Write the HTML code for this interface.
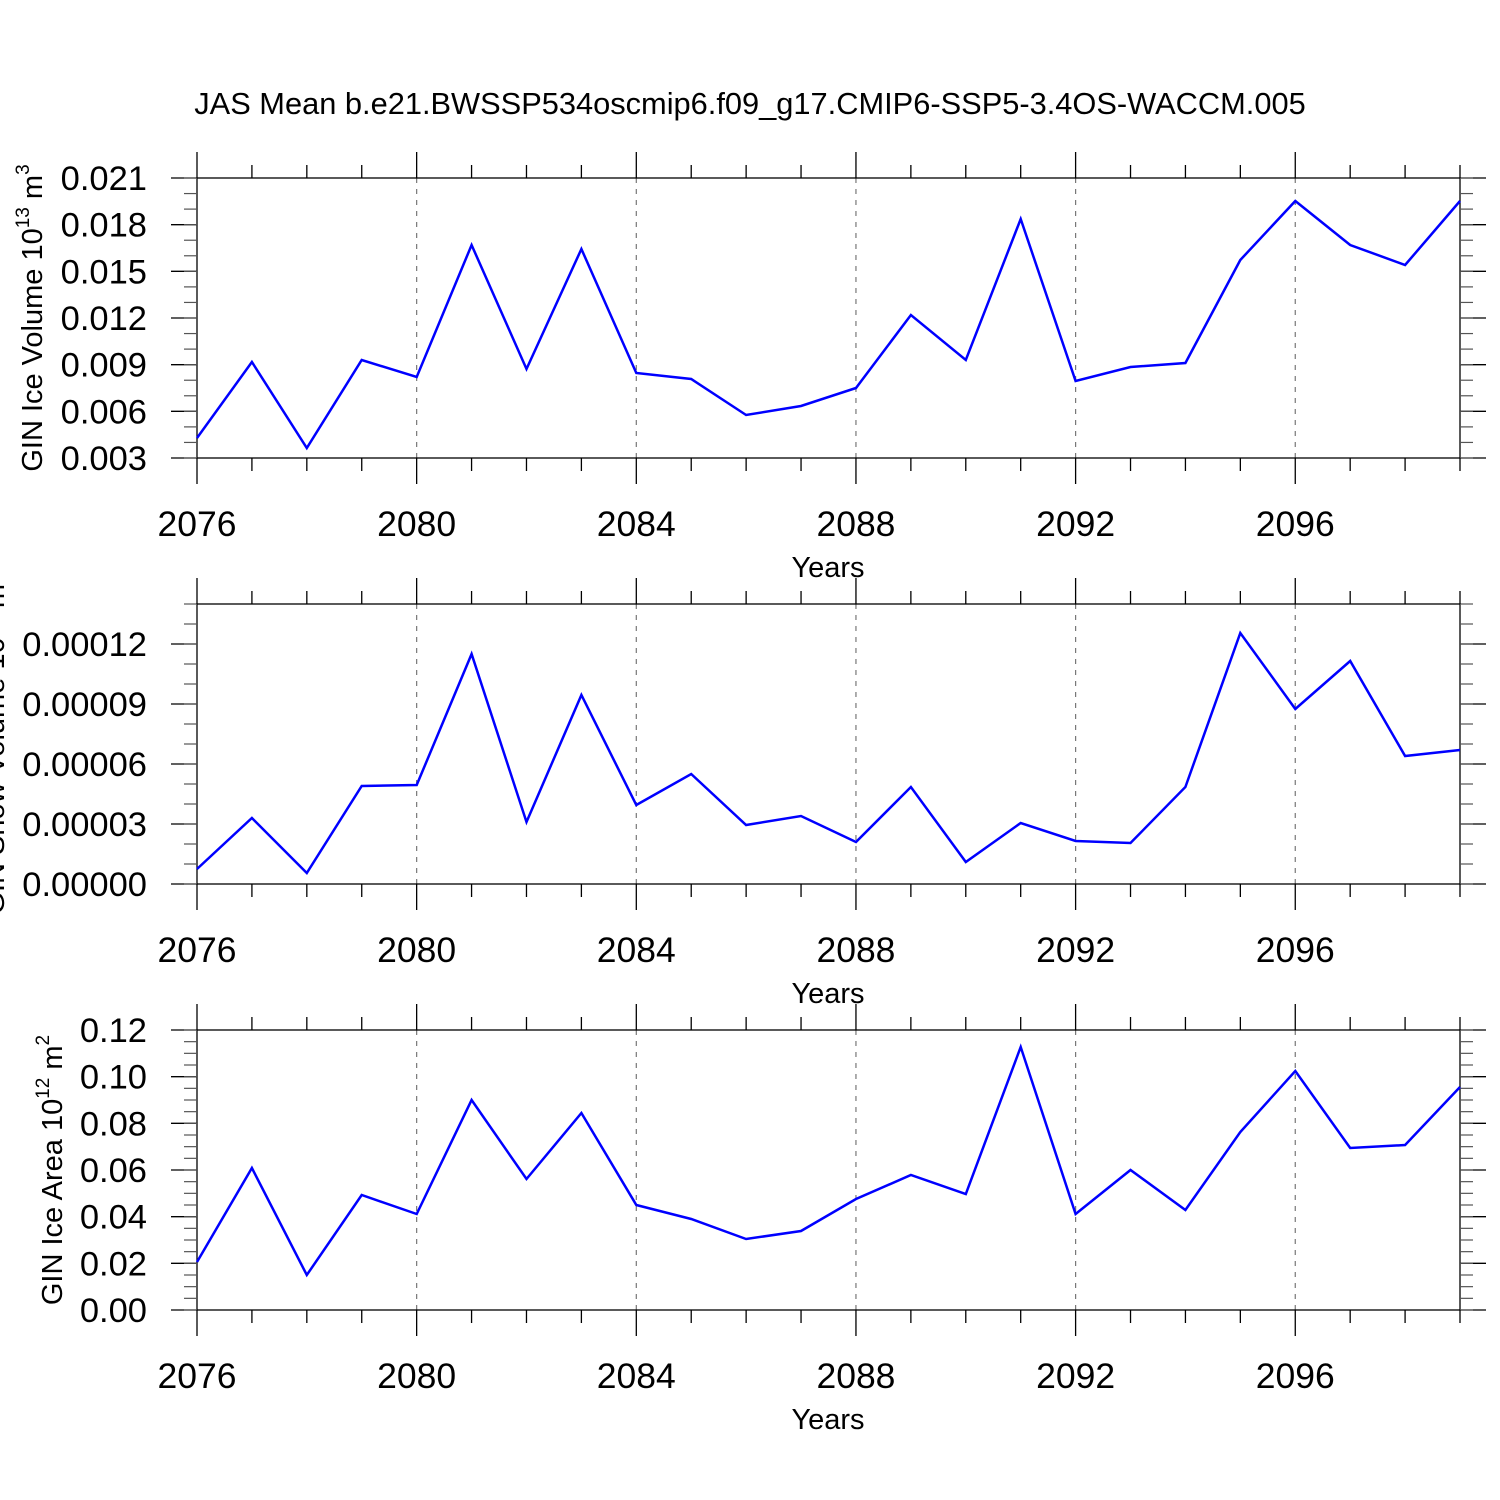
<!DOCTYPE html>
<html><head><meta charset="utf-8"><style>body{margin:0;background:#fff}svg{display:block}</style></head>
<body>
<svg id="s" width="1500" height="1500" xmlns="http://www.w3.org/2000/svg" font-family="Liberation Sans, sans-serif">
<rect width="1500" height="1500" fill="#fff"/>
<text x="750" y="114" font-size="30.8" text-anchor="middle">JAS Mean b.e21.BWSSP534oscmip6.f09_g17.CMIP6-SSP5-3.4OS-WACCM.005</text>
</svg>
<script>
const s=document.getElementById('s');const NS='http://www.w3.org/2000/svg';
function el(t,a,txt){const e=document.createElementNS(NS,t);for(const k in a)e.setAttribute(k,a[k]);if(txt!==undefined)e.textContent=txt;s.appendChild(e);return e;}
const X0=197,X1=1460,dx=(X1-X0)/23;
const panels=[
 {top:178,bot:458,labels:['0.021','0.018','0.015','0.012','0.009','0.006','0.003'],minor:3,
  ys:[438,362,448,360,377,245,369,249,373,379,415,406,388,315,360,219,381,367,363,260,201,245,265,201],
  ylab:'GIN Ice Volume 10<tspan dy="-13" font-size="19">13</tspan><tspan dy="13"> m</tspan><tspan dy="-13" font-size="19">3</tspan>',lx:42},
 {top:604,bot:884,labels:['0.00012','0.00009','0.00006','0.00003','0.00000'],start:644,step:60,minor:3,
  ys:[869,818,873,786,785,654,822,695,805,774,825,816,842,787,862,823,841,843,787,633,709,661,756,750],
  ylab:'GIN Snow Volume 10<tspan dy="-13" font-size="19">13</tspan><tspan dy="13"> m</tspan><tspan dy="-13" font-size="19">3</tspan>',lx:4},
 {top:1030,bot:1310,labels:['0.12','0.10','0.08','0.06','0.04','0.02','0.00'],minor:4,
  ys:[1262,1168,1275,1195,1214,1100,1179,1113,1205,1219,1239,1231,1199,1175,1194,1047,1214,1170,1210,1132,1071,1148,1145,1087],
  ylab:'GIN Ice Area 10<tspan dy="-13" font-size="19">12</tspan><tspan dy="13"> m</tspan><tspan dy="-13" font-size="19">2</tspan>',lx:62}
];
for(const p of panels){
 const n=p.labels.length;
 const start=p.start!==undefined?p.start:p.top;
 const step=p.step!==undefined?p.step:(p.bot-p.top)/(n-1);
 for(let yr=2080;yr<=2096;yr+=4){const x=X0+(yr-2076)*dx;el('line',{x1:x,x2:x,y1:p.top,y2:p.bot,stroke:'#777','stroke-width':1.2,'stroke-dasharray':'5,6'});}
 el('rect',{x:X0,y:p.top,width:X1-X0,height:p.bot-p.top,fill:'none',stroke:'#000','stroke-width':1.3});
 for(let i=0;i<n;i++){const y=start+i*step;
  el('line',{x1:X0-26,x2:X0,y1:y,y2:y,stroke:'#000','stroke-width':1.3});
  el('line',{x1:X1,x2:X1+26,y1:y,y2:y,stroke:'#000','stroke-width':1.3});
  el('text',{x:X0-50,y:y+12,'font-size':34.5,'text-anchor':'end'},p.labels[i]);
 }
 const ms=step/p.minor;
 for(let y=start-Math.floor((start-p.top)/ms)*ms;y<=p.bot+0.1;y+=ms){
  el('line',{x1:X0-13,x2:X0,y1:y,y2:y,stroke:'#555','stroke-width':1.2});
  el('line',{x1:X1,x2:X1+13,y1:y,y2:y,stroke:'#555','stroke-width':1.2});
 }
 for(let i=0;i<=23;i++){const x=X0+i*dx;const maj=i%4==0;const L=maj?26:13;
  el('line',{x1:x,x2:x,y1:p.top-L,y2:p.top,stroke:'#000','stroke-width':1.3});
  el('line',{x1:x,x2:x,y1:p.bot,y2:p.bot+L,stroke:'#000','stroke-width':1.3});
  if(maj) el('text',{x:x,y:p.bot+78,'font-size':35.5,'text-anchor':'middle'},String(2076+i));
 }
 el('text',{x:828,y:p.bot+119,'font-size':29,'text-anchor':'middle'},'Years');
 const t=el('text',{transform:`translate(${p.lx},${(p.top+p.bot)/2}) rotate(-90)`,'font-size':29,'text-anchor':'middle'});
 t.innerHTML=p.ylab;
 el('polyline',{points:p.ys.map((y,i)=>(X0+i*dx).toFixed(1)+','+y).join(' '),fill:'none',stroke:'#0000ff','stroke-width':2.5,'stroke-linejoin':'miter'});
}
</script>
</body></html>
